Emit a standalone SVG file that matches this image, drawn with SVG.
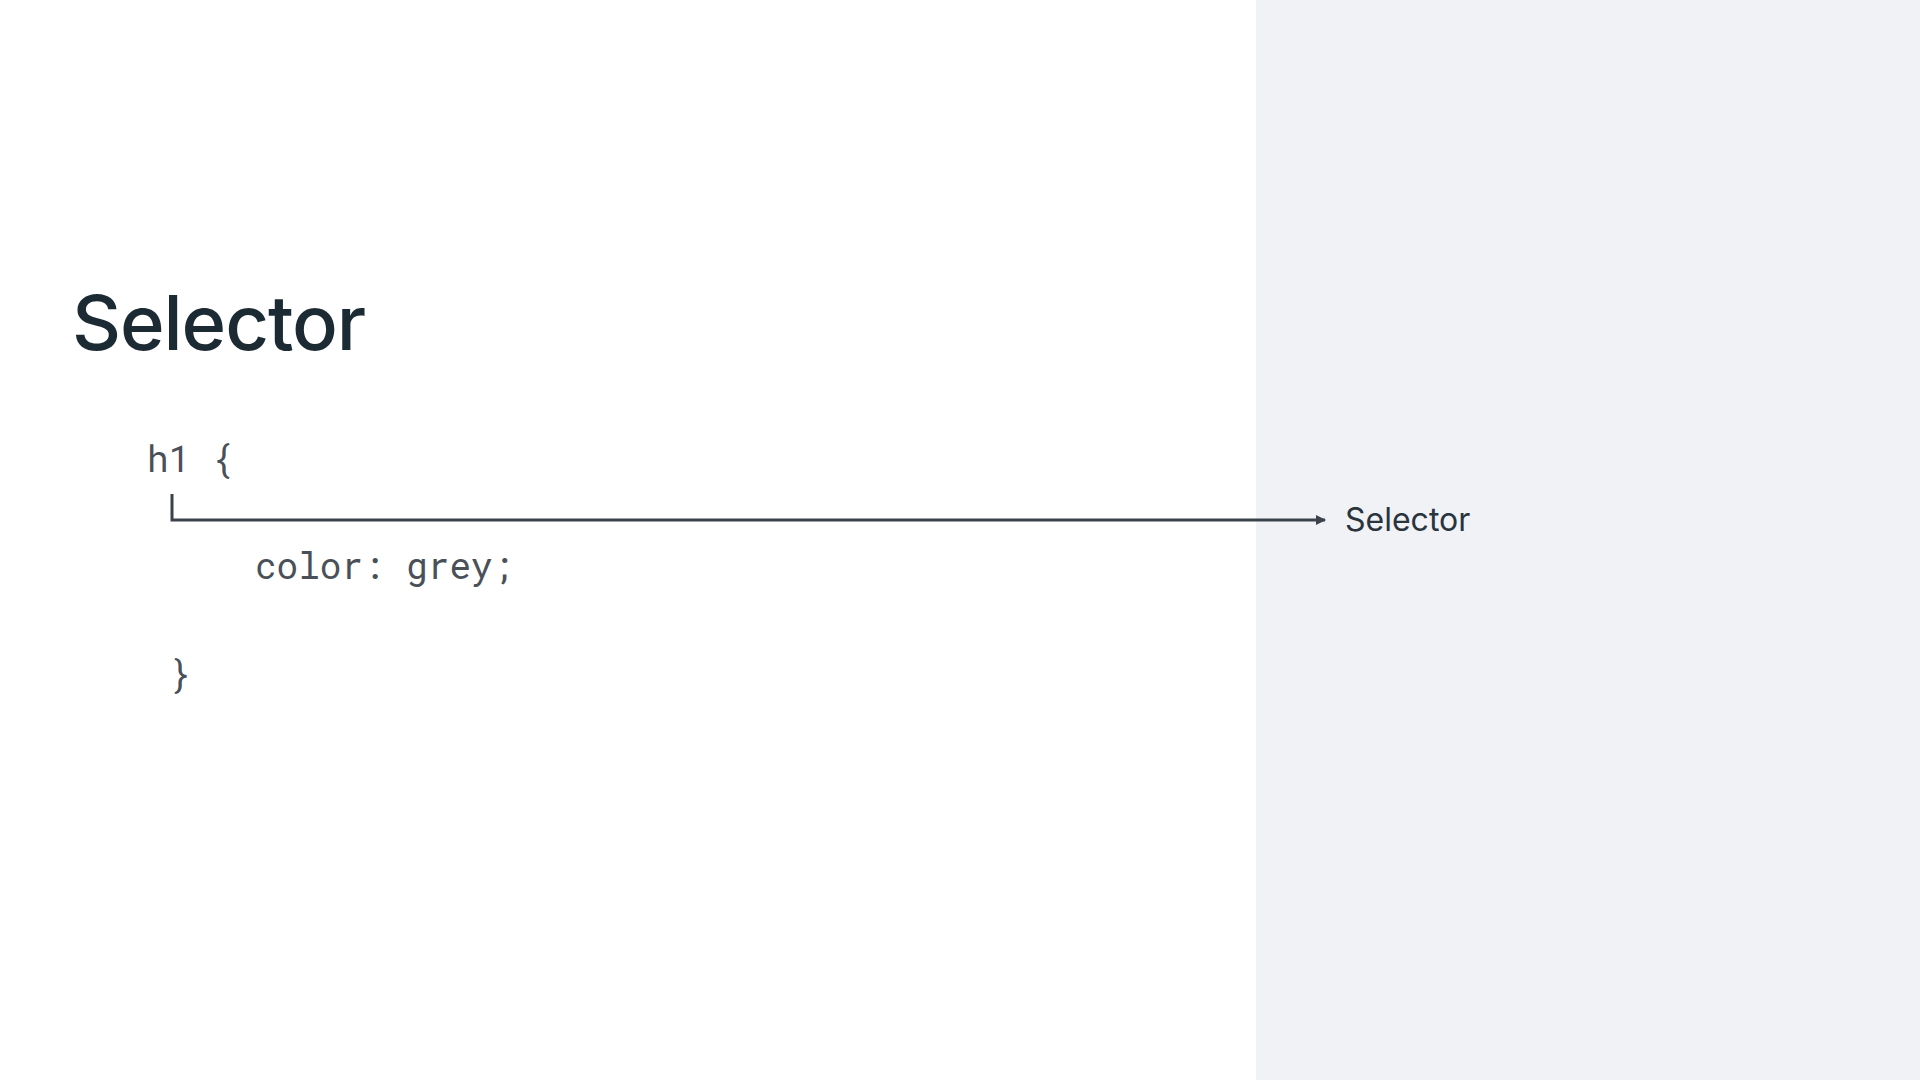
<svg xmlns="http://www.w3.org/2000/svg" width="1920" height="1080" viewBox="0 0 1920 1080">
<defs>
<style>
.title{font-family:Inter,"Noto Sans",sans-serif;font-weight:500;font-size:76px;letter-spacing:-1.1px;fill:#1c2b33}
.code{font-family:"Roboto Mono","DejaVu Sans Mono","Liberation Mono",monospace;font-size:36px;fill:#4a5058}
.label{font-family:Inter,"Noto Sans",sans-serif;font-size:32px;fill:#2a343c}
.conn{fill:none;stroke:#3a434b;stroke-width:3}
</style>
<marker id="arrow" viewBox="0 0 10 10" refX="9" refY="5" markerWidth="3.4" markerHeight="3.4" orient="auto" markerUnits="strokeWidth">
<path d="M0,0 L10,5 L0,10 Z" fill="#3a434b"/>
</marker>
</defs>
<rect x="0" y="0" width="1920" height="1080" fill="#ffffff"/>
<rect x="1256" y="0" width="664" height="1080" fill="#f0f2f6"/>
<g id="title"><text class="title" x="72" y="350">Selector</text></g>
<g id="code">
<text class="code" x="147" y="472" xml:space="preserve">h1 {</text>
<text class="code" x="255" y="579">color: grey;</text>
<text class="code" x="169" y="687">}</text>
</g>
<g id="connectors">
<path class="conn" d="M172,494 V520 H1325" marker-end="url(#arrow)"/>
</g>
<g id="selector-label"><text class="label" x="1345" y="531">Selector</text></g>
</svg>
